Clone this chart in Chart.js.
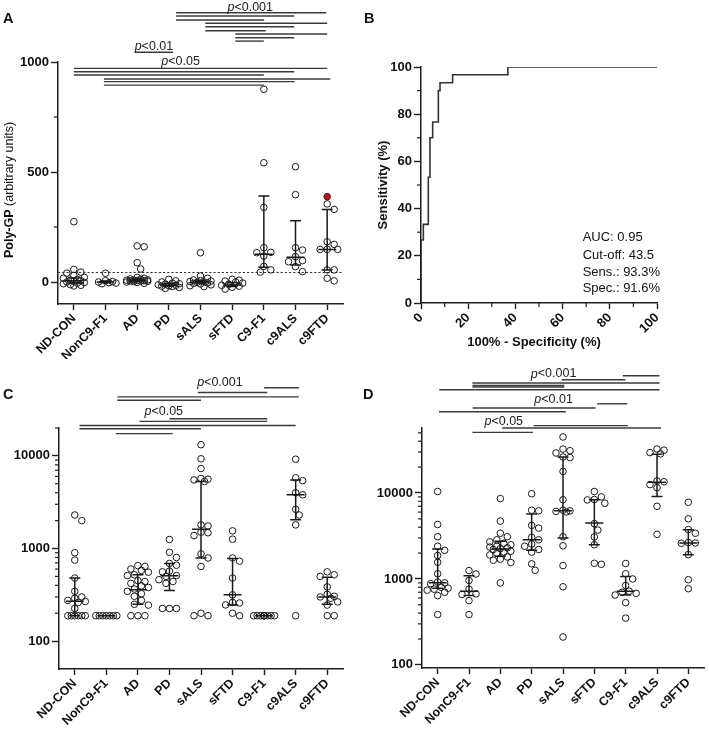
<!DOCTYPE html>
<html><head><meta charset="utf-8"><title>Poly-GP, pNfH and NfL</title>
<script src="https://cdn.jsdelivr.net/npm/chart.js@4.4.1/dist/chart.umd.min.js"></script>
<style>
html,body{margin:0;padding:0;background:#fff;}
#fig{position:relative;width:709px;height:732px;overflow:hidden;background:#fff;}
.panel{position:absolute;}
.panel canvas{display:block;}
</style></head><body>
<div id="fig">
<div class="panel" style="left:0;top:0;width:355px;height:365px"><canvas id="cA"></canvas></div>
<div class="panel" style="left:355px;top:0;width:354px;height:365px"><canvas id="cB"></canvas></div>
<div class="panel" style="left:0;top:365px;width:355px;height:367px"><canvas id="cC"></canvas></div>
<div class="panel" style="left:355px;top:365px;width:354px;height:367px"><canvas id="cD"></canvas></div>
</div>
<script>
const FONT = "'Liberation Sans', Arial, Helvetica, sans-serif";
Chart.defaults.font.family = FONT;
Chart.defaults.color = '#111';
Chart.defaults.animation = false;

// ---------------- shared ----------------
const categories = ['ND-CON','NonC9-F1','AD','PD','sALS','sFTD','C9-F1','c9ALS','c9FTD'];

// ---------------- Panel A: Poly-GP ----------------
const polyGPValues = [
  [274, 57, 45, 40, 30, 21, 17, 12, 9, 6, 3, 0, -2, -5, -8, -12, -15, -18],
  [40, 6, 2, 0, -3, -5, -8],
  [164, 160, 88, 59, 21, 17, 14, 12, 10, 9, 8, 7, 6, 5, 4, 3, 2, 0, -2, -6],
  [12, 5, 0, -5, -8, -10, -13, -15, -17, -19, -21, -25, -29],
  [133, 27, 17, 9, 6, 4, 2, 0, -2, -4, -6, -9, -13, -17, -21],
  [12, 8, 4, 0, -5, -10, -15, -19, -24, -32],
  [876, 542, 339, 156, 135, 133, 118, 71, 55, 45],
  [524, 397, 156, 145, 115, 97, 92, 70, 47],
  [355, 330, 183, 171, 148, 148, 148, 55, 55, 17, 5]
];
const polyGPHighlightCat = [8];
const polyGPHighlightVal = [388];
const polyGPMedian = [6, 0, 8, -14, 0, -14, 126, 112, 148];
const polyGPQ1     = [-4, -3, 3, -19, -5, -20, 67, 77, 55];
const polyGPQ3     = [18, 5, 14, -6, 6, -3, 391, 278, 330];
const polyGPCutoff = 43.5;
const polyGPTicks = [0, 500, 1000];
const polyGPMinorTicks = [250, 750];
const polyGPSigLines = [
  [3.23, 7.97, 1224], [3.23, 6.96, 1209], [3.23, 6.01, 1191],
  [4.15, 8.0, 1176], [4.15, 6.96, 1160], [4.15, 6.06, 1142],
  [5.1, 8.0, 1127], [5.1, 6.96, 1110], [5.1, 6.0, 1095],
  [1.93, 3.13, 1044],
  [0, 8.0, 971], [0, 6.96, 956], [0, 6.0, 941],
  [0.95, 8.1, 923], [0.95, 6.98, 911], [0.95, 6.0, 895]
];
const polyGPSigLabels = [['<0.001', 5.57, 1249], ['<0.01', 2.53, 1070], ['<0.05', 3.37, 1001]];

// ---------------- Panel B: ROC ----------------
const rocFpr  = [0, 0, 1, 3.1, 3.8, 4.95, 7.35, 8.06, 13.4, 36.8, 100];
const rocSens = [0, 26.7, 33.3, 53.3, 70, 76.7, 90, 93.3, 96.7, 100, 100];
const rocTicks = [0, 20, 40, 60, 80, 100];
const rocMinorTicks = [10, 30, 50, 70, 90];
const rocStats = ['AUC: 0.95', 'Cut-off: 43.5', 'Sens.: 93.3%', 'Spec.: 91.6%'];
const rocStatsX = 68.5;
const rocStatsY = [27.7, 20.1, 12.8, 6.0];

// ---------------- Panel C: pNfH ----------------
const pnfhValues = [
  [2300, 2000, 900, 750, 480, 345, 300, 290, 275, 268, 262, 225, 188, 188, 188, 188, 188, 188],
  [188, 188, 188, 188, 188, 188, 188],
  [653, 640, 600, 580, 555, 520, 510, 450, 440, 420, 395, 380, 365, 345, 325, 305, 275, 250, 245, 188, 188, 188],
  [1250, 910, 800, 690, 660, 570, 560, 510, 500, 460, 440, 420, 225, 225, 225],
  [13200, 9300, 7300, 5700, 5600, 5500, 5300, 1800, 1750, 1500, 1480, 1380, 875, 790, 640, 200, 188, 188],
  [1550, 1260, 790, 730, 480, 316, 262, 258, 246, 200, 188],
  [188, 188, 188, 188, 188, 188, 188, 188, 188, 188],
  [9200, 5800, 5400, 4000, 3800, 2650, 2300, 1800, 188],
  [560, 520, 500, 385, 320, 305, 300, 290, 265, 245, 188, 188]
];
const pnfhMedian = [270, 188, 358, 509, 1610, 316, 188, 3800, 300];
const pnfhQ1     = [188, 188, 250, 352, 790, 246, 188, 2050, 250];
const pnfhQ3     = [480, 188, 522, 687, 5300, 778, 188, 5500, 490];
const pnfhTicks = [100, 1000, 10000];
const pnfhMinorTicks = [200, 300, 400, 500, 600, 700, 800, 900, 2000, 3000, 4000, 5000, 6000, 7000, 8000, 9000, 20000];
const pnfhSigLines = [
  [6, 7.1, 54400], [3.9, 6.1, 48400], [1.35, 7.1, 43400], [1.35, 4, 39900],
  [3, 6.1, 25200], [2.05, 6.1, 23600], [0.15, 7, 21300], [0.15, 4, 19600], [1.3, 3.1, 17400]
];
const pnfhSigLabels = [['<0.001', 4.6, 62100], ['<0.05', 2.82, 30300]];

// ---------------- Panel D: NfL ----------------
const nflValues = [
  [10400, 4300, 3100, 2400, 2150, 1870, 1560, 1150, 920, 900, 880, 800, 780, 760, 740, 700, 640, 385],
  [1250, 1140, 960, 760, 670, 660, 560, 385],
  [8600, 4700, 3400, 3100, 2850, 2700, 2600, 2500, 2400, 2350, 2300, 2250, 2200, 2100, 2050, 2000, 1900, 1800, 1700, 1650, 1550, 900],
  [9800, 6300, 6200, 4200, 3900, 3050, 2850, 2550, 2400, 2200, 2050, 1500, 1260],
  [44800, 32400, 31000, 29200, 26200, 25800, 17800, 8350, 6300, 6200, 6100, 6000, 3100, 2430, 1430, 810, 211],
  [10400, 9000, 8400, 8300, 7600, 4400, 3700, 3080, 2500, 1520, 1480],
  [1510, 1150, 1000, 840, 720, 700, 680, 650, 530, 350],
  [32500, 31500, 29500, 28500, 13800, 13500, 12500, 11500, 7000, 3300],
  [7800, 5000, 3750, 3400, 2650, 2620, 2600, 1920, 980, 770]
];
const nflMedian = [900, 718, 2230, 2860, 6220, 4470, 718, 13300, 2620];
const nflQ1     = [780, 640, 1830, 2150, 2990, 2500, 650, 9100, 1917];
const nflQ3     = [2230, 1090, 2735, 5700, 26200, 8350, 1070, 28300, 3740];
const nflTicks = [100, 1000, 10000];
const nflMinorTicks = [200, 300, 400, 500, 600, 700, 800, 900, 2000, 3000, 4000, 5000, 6000, 7000, 8000, 9000, 20000, 30000, 40000, 50000];
const nflSigLines = [
  [5.91, 7.08, 231000], [3.96, 5.99, 207600], [1.11, 7.08, 190000], [1.11, 4.04, 178000], [1.11, 4.04, 171000],
  [0.05, 7.08, 158900], [5.09, 6.05, 109000], [1.12, 5.04, 97300], [0.04, 4.09, 88100],
  [3.06, 6.07, 60700], [2.06, 7.13, 57100], [1.11, 3.04, 50700]
];
const nflSigLabels = [['<0.001', 3.70, 242000], ['<0.01', 3.70, 121700], ['<0.05', 2.11, 68100]];

// ---------------- styling constants ----------------
const AXIS_COLOR = '#1e1e1e';
const DIAM = 7, MAXHALF = 11;
const MED_HALF = 9, CAP_HALF = 5.5;

function drawParts(ctx, parts, cx, cy, rot, align) {
  ctx.save();
  ctx.translate(cx, cy);
  ctx.rotate(rot || 0);
  ctx.textBaseline = 'middle';
  ctx.textAlign = 'left';
  let w = 0;
  parts.forEach(([t, f]) => { ctx.font = f; w += ctx.measureText(t).width; });
  let xx = align === 'left' ? 0 : -w / 2;
  parts.forEach(([t, f]) => { ctx.font = f; ctx.fillText(t, xx, 0); xx += ctx.measureText(t).width; });
  ctx.restore();
}

function makeDeco(o) {
  return {
    id: 'deco',
    beforeDatasetsDraw(chart) {
      const {ctx, chartArea: a, scales: {y}} = chart;
      if (o.cutoff !== undefined) {
        const py = Math.round(y.getPixelForValue(o.cutoff)) + 0.5;
        ctx.save();
        ctx.strokeStyle = '#333'; ctx.lineWidth = 1.1; ctx.setLineDash([2.2, 2]);
        ctx.beginPath(); ctx.moveTo(a.left, py); ctx.lineTo(a.right, py); ctx.stroke();
        ctx.restore();
      }
    },
    afterDatasetsDraw(chart) {
      if (!o.median) return;
      const {ctx, scales: {x, y}} = chart;
      ctx.save();
      ctx.strokeStyle = '#1a1a1a'; ctx.lineWidth = 1.5;
      o.median.forEach((m, i) => {
        const px = x.getPixelForValue(i);
        const pm = y.getPixelForValue(m), p1 = y.getPixelForValue(o.q1[i]), p3 = y.getPixelForValue(o.q3[i]);
        ctx.beginPath();
        ctx.moveTo(px, p1); ctx.lineTo(px, p3);
        ctx.moveTo(px - MED_HALF, pm); ctx.lineTo(px + MED_HALF, pm);
        ctx.moveTo(px - CAP_HALF, p1); ctx.lineTo(px + CAP_HALF, p1);
        ctx.moveTo(px - CAP_HALF, p3); ctx.lineTo(px + CAP_HALF, p3);
        ctx.stroke();
      });
      ctx.restore();
    },
    afterDraw(chart) {
      const {ctx, chartArea: a, scales: {x, y}} = chart;
      ctx.save();
      ctx.strokeStyle = AXIS_COLOR; ctx.lineWidth = 1.2;
      (o.yMinor || []).forEach(v => {
        const py = y.getPixelForValue(v);
        ctx.beginPath(); ctx.moveTo(a.left - 4, py); ctx.lineTo(a.left, py); ctx.stroke();
      });
      (o.xMinor || []).forEach(v => {
        const px = x.getPixelForValue(v);
        ctx.beginPath(); ctx.moveTo(px, a.bottom); ctx.lineTo(px, a.bottom + 4); ctx.stroke();
      });
      ctx.strokeStyle = '#3a3a3a'; ctx.lineWidth = 1.4;
      (o.sig || []).forEach(([f, t, l]) => {
        const py = y.getPixelForValue(l);
        ctx.beginPath(); ctx.moveTo(x.getPixelForValue(f), py); ctx.lineTo(x.getPixelForValue(t), py); ctx.stroke();
      });
      ctx.fillStyle = '#222';
      (o.sigLabels || []).forEach(([t, xv, yv]) => {
        drawParts(ctx, [['p', 'italic 12.5px ' + FONT], [t, '12.5px ' + FONT]], x.getPixelForValue(xv), y.getPixelForValue(yv), 0);
      });
      ctx.fillStyle = '#111';
      if (o.yTitle) drawParts(ctx, o.yTitle, o.yTitleX, o.yTitleY !== undefined ? o.yTitleY : (a.top + a.bottom) / 2, -Math.PI / 2);
      if (o.xTitle) drawParts(ctx, o.xTitle, o.xTitleX, o.xTitleY, 0);
      if (o.stats) {
        o.stats.forEach((t, i) => drawParts(ctx, [[t, '13px ' + FONT]], x.getPixelForValue(o.statsX), y.getPixelForValue(o.statsY[i]), 0, 'left'));
      }
      ctx.font = 'bold 14.5px ' + FONT; ctx.textAlign = 'left'; ctx.textBaseline = 'alphabetic';
      ctx.fillText(o.letter, o.letterX, o.letterY);
      ctx.restore();
    }
  };
}

function tickGrid(len) {
  return { display: true, drawOnChartArea: false, drawTicks: true, tickLength: len, tickWidth: 1.4, tickColor: AXIS_COLOR };
}
const BORDER = { display: true, color: AXIS_COLOR, width: 1.5 };

function categoryAxis(xh) {
  return {
    type: 'linear', min: -0.5, max: 8.5,
    afterBuildTicks: s => { s.ticks = categories.map((c, i) => ({ value: i })); },
    afterFit: s => { s.height = xh; },
    ticks: { callback: v => categories[v] !== undefined ? categories[v] : '', minRotation: 45, maxRotation: 45, autoSkip: false,
             font: { size: 12.5, weight: 'bold' }, color: '#111', padding: 1 },
    grid: tickGrid(6), border: BORDER
  };
}

function valueAxis(type, min, max, ticks) {
  return {
    type, min, max,
    afterBuildTicks: s => { s.ticks = ticks.map(v => ({ value: v })); },
    afterFit: s => { s.width = 50; },
    ticks: { callback: v => ticks.includes(v) ? String(v) : '', font: { size: 13, weight: 'bold' }, color: '#111', padding: 2, autoSkip: false },
    grid: tickGrid(7), border: BORDER
  };
}

function swarm(pys) {
  const order = pys.map((p, i) => i).sort((a, b) => pys[a] - pys[b]);
  const cands = [0];
  const step = DIAM / 2;
  for (let k = 1; k * step <= MAXHALF + 0.01; k++) cands.push(k * step, -k * step);
  const placed = [];
  const offs = new Array(pys.length).fill(0);
  order.forEach(i => {
    let best = 0, bestD = -1;
    for (const c of cands) {
      let minD = Infinity;
      for (const q of placed) { const d = Math.hypot(c - q.x, pys[i] - q.y); if (d < minD) minD = d; }
      if (minD >= DIAM * 0.95) { best = c; break; }
      if (minD > bestD + 0.01) { bestD = minD; best = c; }
    }
    placed.push({ x: best, y: pys[i] });
    offs[i] = best;
  });
  return offs;
}

function dotChart(id, o) {
  const all = [];
  o.values.forEach((arr, ci) => arr.forEach(v => all.push({ cat: ci, val: v, hi: false, off: 0 })));
  (o.hiCat || []).forEach((c, k) => all.push({ cat: c, val: o.hiVal[k], hi: true, off: 0 }));
  const pointStyle = { pointRadius: 3.3, pointBorderWidth: 1, pointBorderColor: '#1a1a1a', pointBackgroundColor: 'rgba(255,255,255,0)', showLine: false };
  const chart = new Chart(document.getElementById(id), {
    type: 'scatter',
    data: { datasets: [
      Object.assign({ data: all.filter(p => !p.hi).map(p => ({ x: p.cat, y: p.val })) }, pointStyle),
      Object.assign({ data: all.filter(p => p.hi).map(p => ({ x: p.cat, y: p.val })) }, pointStyle, { pointBackgroundColor: '#a3161c', pointBorderColor: '#7a1014' })
    ] },
    options: {
      responsive: true, maintainAspectRatio: false, animation: false,
      layout: { padding: o.padding },
      plugins: { legend: { display: false }, tooltip: { enabled: false } },
      scales: { x: categoryAxis(o.xh), y: valueAxis(o.yType, o.yMin, o.yMax, o.yTicks) }
    },
    plugins: [makeDeco(o.deco)]
  });
  const xs = chart.scales.x, ys = chart.scales.y;
  const ppc = xs.getPixelForValue(1) - xs.getPixelForValue(0);
  categories.forEach((c, ci) => {
    const g = all.filter(p => p.cat === ci);
    const offs = swarm(g.map(p => ys.getPixelForValue(p.val)));
    g.forEach((p, k) => { p.off = offs[k] / ppc; });
  });
  chart.data.datasets[0].data = all.filter(p => !p.hi).map(p => ({ x: p.cat + p.off, y: p.val }));
  chart.data.datasets[1].data = all.filter(p => p.hi).map(p => ({ x: p.cat + p.off, y: p.val }));
  chart.update('none');
  return chart;
}

// ---------------- build panel A ----------------
dotChart('cA', {
  values: polyGPValues, hiCat: polyGPHighlightCat, hiVal: polyGPHighlightVal,
  yType: 'linear', yMin: -100, yMax: 1000, yTicks: polyGPTicks,
  padding: { left: 8, right: 12, top: 62, bottom: 6 }, xh: 55,
  deco: {
    median: polyGPMedian, q1: polyGPQ1, q3: polyGPQ3, cutoff: polyGPCutoff,
    yMinor: polyGPMinorTicks, sig: polyGPSigLines, sigLabels: polyGPSigLabels,
    yTitle: [['Poly-GP', 'bold 12.5px ' + FONT], [' (arbitrary units)', '12.5px ' + FONT]], yTitleX: 10, yTitleY: 190,
    letter: 'A', letterX: 3, letterY: 23
  }
});

// ---------------- build panel B ----------------
new Chart(document.getElementById('cB'), {
  type: 'scatter',
  data: { datasets: [{
    data: rocFpr.map((x, i) => ({ x, y: rocSens[i] })),
    showLine: true, stepped: 'before', borderColor: '#333', borderWidth: 1.6, pointRadius: 0, fill: false
  }] },
  options: {
    responsive: true, maintainAspectRatio: false, animation: false,
    layout: { padding: { left: 16, right: 52, top: 67, bottom: 7 } },
    plugins: { legend: { display: false }, tooltip: { enabled: false } },
    scales: {
      x: {
        type: 'linear', min: 0, max: 100,
        afterBuildTicks: s => { s.ticks = rocTicks.map(v => ({ value: v })); },
        afterFit: s => { s.height = 55; },
        ticks: { callback: v => String(v), minRotation: 45, maxRotation: 45, autoSkip: false, font: { size: 13, weight: 'bold' }, color: '#111', padding: 1 },
        grid: tickGrid(6), border: BORDER
      },
      y: valueAxis('linear', 0, 100, rocTicks)
    }
  },
  plugins: [makeDeco({
    yMinor: rocMinorTicks, xMinor: rocMinorTicks,
    yTitle: [['Sensitivity (%)', 'bold 13px ' + FONT]], yTitleX: 28,
    xTitle: [['100% - Specificity (%)', 'bold 13px ' + FONT]], xTitleX: 179, xTitleY: 342,
    stats: rocStats, statsX: rocStatsX, statsY: rocStatsY,
    letter: 'B', letterX: 9, letterY: 23
  })]
});

// ---------------- build panel C ----------------
dotChart('cC', {
  values: pnfhValues,
  yType: 'logarithmic', yMin: 50, yMax: 20000, yTicks: pnfhTicks,
  padding: { left: 9, right: 12, top: 63, bottom: 7 }, xh: 56,
  deco: {
    median: pnfhMedian, q1: pnfhQ1, q3: pnfhQ3,
    yMinor: pnfhMinorTicks, sig: pnfhSigLines, sigLabels: pnfhSigLabels,
    yTitle: [['pNfH', 'bold 12.5px ' + FONT], [' (pg/mL)', '12.5px ' + FONT]], yTitleX: 9, yTitleY: 550,
    letter: 'C', letterX: 3, letterY: 34
  }
});

// ---------------- build panel D ----------------
dotChart('cD', {
  values: nflValues,
  yType: 'logarithmic', yMin: 92, yMax: 57000, yTicks: nflTicks,
  padding: { left: 17, right: 3, top: 63, bottom: 8 }, xh: 56,
  deco: {
    median: nflMedian, q1: nflQ1, q3: nflQ3,
    yMinor: nflMinorTicks, sig: nflSigLines, sigLabels: nflSigLabels,
    yTitle: [['NfL', 'bold 12.5px ' + FONT], [' (pg/mL)', '12.5px ' + FONT]], yTitleX: 8, yTitleY: 550,
    letter: 'D', letterX: 8, letterY: 34
  }
});
</script>
</body></html>
